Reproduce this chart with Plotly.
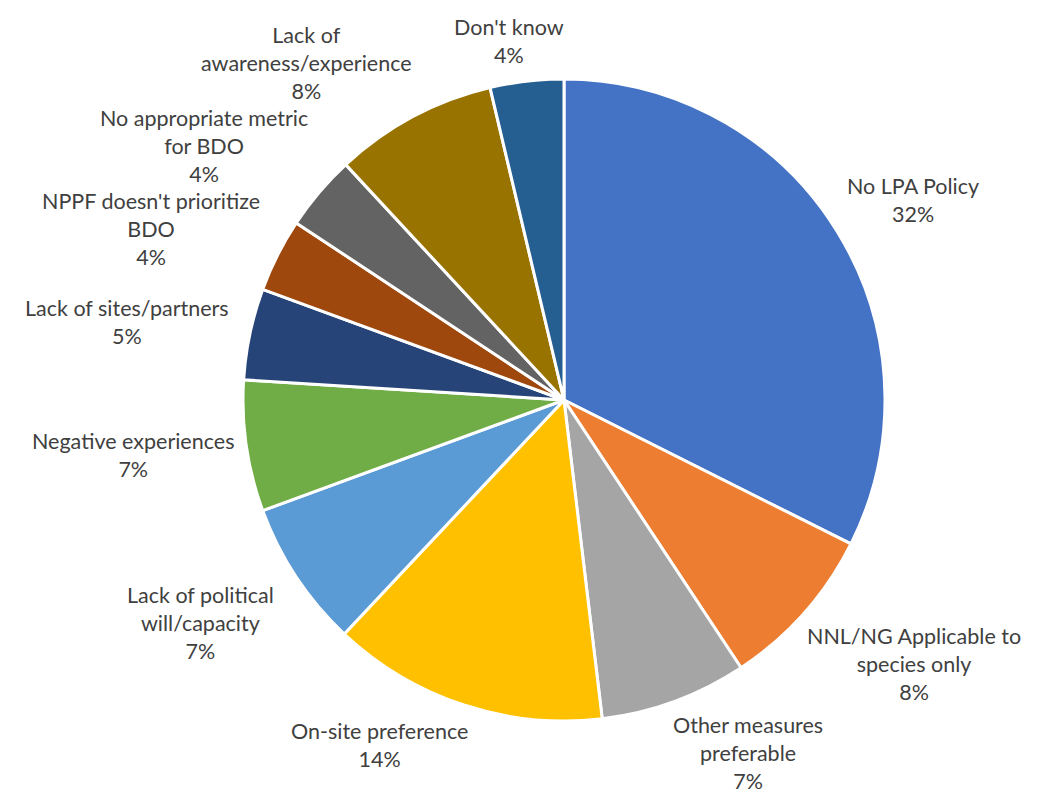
import math
import plotly.graph_objects as go

# Reasons given (share of responses, %)
categories = [
    "No LPA Policy",
    "NNL/NG Applicable to<br>species only",
    "Other measures<br>preferable",
    "On-site preference",
    "Lack of political<br>will/capacity",
    "Negative experiences",
    "Lack of sites/partners",
    "NPPF doesn't prioritize<br>BDO",
    "No appropriate metric<br>for BDO",
    "Lack of<br>awareness/experience",
    "Don't know",
]
shares = [32.4, 8.3, 7.4, 13.9, 7.4, 6.6, 4.6, 3.7, 3.8, 8.2, 3.7]
colors = [
    "#4472C4", "#ED7D31", "#A5A5A5", "#FFC000", "#5B9BD5", "#70AD47",
    "#264478", "#9E480E", "#636363", "#997300", "#255E91",
]

W, H = 1044, 794
cx, cy, r = 564, 400, 321
FONT = "Lato"
FS = 21.5
TEXT = "#404040"

fig = go.Figure(
    go.Pie(
        labels=categories,
        values=shares,
        sort=False,
        direction="clockwise",
        rotation=0,
        marker=dict(colors=colors, line=dict(color="white", width=3)),
        textinfo="none",
        showlegend=False,
        hoverinfo="label+percent",
        domain=dict(
            x=[(cx - r) / W, (cx + r) / W],
            y=[1 - (cy + r) / H, 1 - (cy - r) / H],
        ),
    )
)


def clamp(t):
    return max(-1.0, min(1.0, t))


# Data labels just outside the rim: the label's inner corner sits a small
# gap beyond the slice's mid-angle point on the circle
total = sum(shares)
gap = 12
line_h = FS * 1.33
char_w = FS * 0.47
pad = 4
boxes = []
acc = 0.0
for name, v in zip(categories, shares):
    mid = (acc + v / 2) / total * 2 * math.pi
    acc += v
    pct = round(v / total * 100)
    lines = name.split("<br>") + [f"{pct}%"]
    w_est = max(len(s) for s in lines) * char_w
    h_est = len(lines) * line_h
    h_ink = (len(lines) - 1) * line_h + FS
    sx, sy = math.sin(mid), -math.cos(mid)
    ax = cx + (r + gap) * sx
    ay = cy + (r + gap) * sy
    px = ax + clamp(sx / 0.35) * w_est / 2
    py = ay + clamp(sy / 0.6) * h_est / 2
    boxes.append(dict(text="<br>".join(lines), x=px, y=py, w=w_est, h=h_ink))


def overlaps_x(a, b):
    return abs(a["x"] - b["x"]) < (a["w"] + b["w"]) / 2


# Resolve collisions: upper labels are pushed down, lower labels pushed up
upper = sorted([b for b in boxes if b["y"] < cy], key=lambda b: b["y"])
for i, b in enumerate(upper):
    for a in upper[:i]:
        if overlaps_x(a, b):
            need = a["y"] + a["h"] / 2 + pad + b["h"] / 2
            if b["y"] < need:
                b["y"] = need
lower = sorted([b for b in boxes if b["y"] >= cy], key=lambda b: -b["y"])
for i, b in enumerate(lower):
    for a in lower[:i]:
        if overlaps_x(a, b):
            need = a["y"] - a["h"] / 2 - pad - b["h"] / 2
            if b["y"] > need:
                b["y"] = need

for b in boxes:
    # keep every label inside the canvas
    b["y"] = min(max(b["y"], b["h"] / 2 + 2), H - b["h"] / 2 - 2)
    fig.add_annotation(
        x=b["x"] / W,
        y=1 - b["y"] / H,
        xref="paper",
        yref="paper",
        text=b["text"],
        showarrow=False,
        xanchor="center",
        yanchor="middle",
        align="center",
        font=dict(family=FONT, size=FS, color=TEXT),
    )

fig.update_layout(
    width=W,
    height=H,
    margin=dict(l=0, r=0, t=0, b=0),
    paper_bgcolor="white",
    plot_bgcolor="white",
    font=dict(family=FONT, color=TEXT),
)

fig.write_html("out.html")
